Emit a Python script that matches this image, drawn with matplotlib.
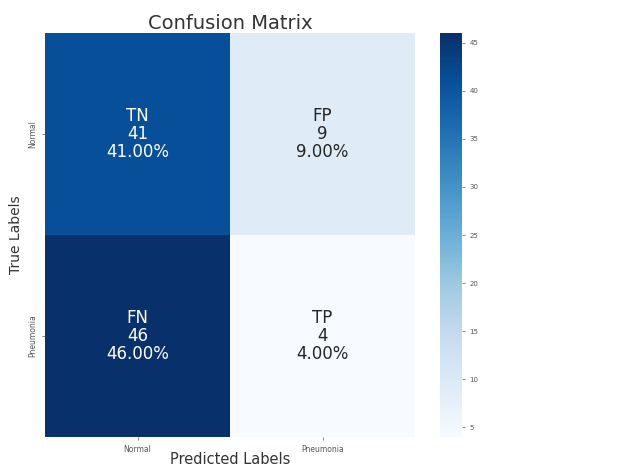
import numpy as np
import matplotlib
matplotlib.use('Agg')
import matplotlib.pyplot as plt
import seaborn as sns

# confusion matrix values (rows = true, cols = predicted)
class_names = ['Normal', 'Pneumonia']
cell_names = ['TN', 'FP', 'FN', 'TP']
counts = [41, 9, 46, 4]

cm = np.array(counts).reshape(2, 2)
total = cm.sum()
labels = [f"{n}\n{c}\n{c / total * 100:.2f}%" for n, c in zip(cell_names, counts)]
labels = np.array(labels).reshape(2, 2)

W, H = 631, 467
fig = plt.figure(figsize=(W / 100, H / 100), dpi=100)
ax = fig.add_axes([45 / W, (H - 437) / H, 370 / W, 404 / H])
cax = fig.add_axes([440 / W, (H - 437) / H, 22 / W, 404 / H])

sns.heatmap(cm, annot=labels, fmt='', cmap='Blues', ax=ax, cbar_ax=cax,
            annot_kws={'fontsize': 12, 'linespacing': 1.0},
            xticklabels=class_names, yticklabels=class_names)

ax.set_title('Confusion Matrix', fontsize=14, color='#333333', pad=3)
ax.set_xlabel('Predicted Labels', fontsize=10.5, color='#333333', labelpad=-1.5)
ax.set_ylabel('True Labels', fontsize=10, color='#333333', labelpad=4)
ax.tick_params(axis='both', labelsize=5.5, length=2, width=0.5, colors='#555555')
plt.setp(ax.get_yticklabels(), rotation=90, va='center')

cax.set_yticks([5, 10, 15, 20, 25, 30, 35, 40, 45])
cax.tick_params(labelsize=5, length=2, width=0.5, colors='#555555')

fig.savefig('out.png', dpi=100)
